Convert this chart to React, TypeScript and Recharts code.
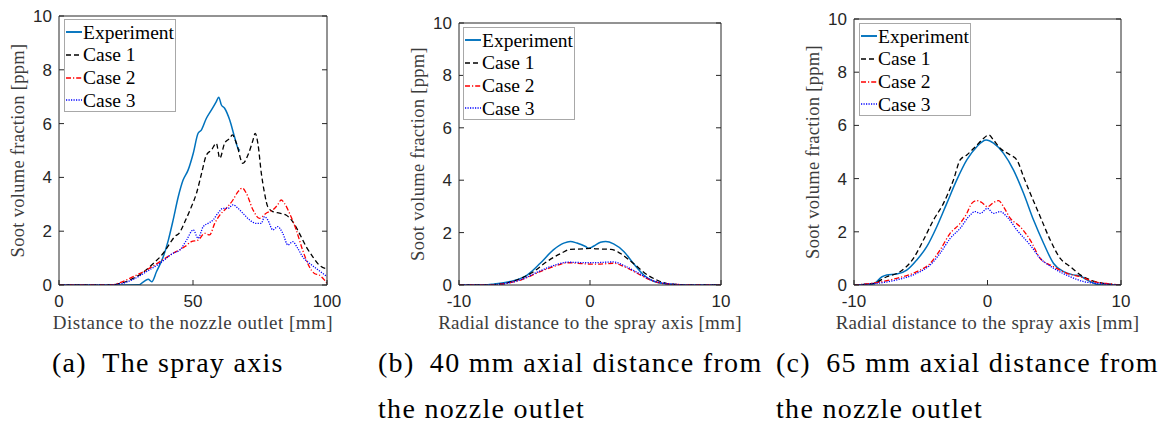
import React from 'react';
import { LineChart, Line, XAxis, YAxis, Legend } from 'recharts';

// ---------- shared labels ----------
const seriesNames = ['Experiment', 'Case 1', 'Case 2', 'Case 3'];
const yTicks = [0, 2, 4, 6, 8, 10];
const aXTicks = [0, 50, 100];
const rXTicks = [-10, 0, 10];
const aXLabel = 'Distance to the nozzle outlet [mm]';
const rXLabel = 'Radial distance to the spray axis [mm]';
const yLabel = 'Soot volume fraction [ppm]';
const captionA = ['(a)\u2002The spray axis'];
const captionB = ['(b)\u200240 mm axial distance from', 'the nozzle outlet'];
const captionC = ['(c)\u200265 mm axial distance from', 'the nozzle outlet'];

// ---------- (a) spray axis ----------
const aExpX = [0, 10, 20, 30, 31.5, 33.3, 34.6, 36.4, 38.9, 40.8, 42.6, 44.5, 46.3, 48.2, 50.1, 51.9, 53.1, 55, 56.9, 58.7, 59.6, 60.6, 61.8, 63.7, 65.5, 66.8, 67.5];
const aExpY = [0, 0, 0, 0.01, 0.12, 0.21, 0.12, 0.5, 1.05, 1.67, 2.42, 3.28, 3.9, 4.28, 4.9, 5.64, 5.76, 6.2, 6.51, 6.82, 6.98, 6.69, 6.57, 6.13, 5.5, 5.08, 5.0];
const aC1X = [0, 10, 20, 22.8, 26.5, 30.8, 35.2, 38.9, 41.4, 43.2, 44.8, 47, 49.4, 51.3, 53.2, 55, 56.9, 58.7, 60, 61.8, 63.7, 64.7, 66.2, 68.6, 70.5, 72.4, 73.2, 74.2, 75.5, 76.7, 77.9, 79.8, 82.3, 84.7, 87.2, 89.7, 92.2, 94.7, 97.1, 99.6, 100];
const aC1Y = [0, 0, 0.01, 0.06, 0.19, 0.43, 0.8, 1.18, 1.55, 1.8, 1.92, 2.36, 2.91, 3.41, 4.15, 4.83, 5.02, 5.27, 4.71, 5.27, 5.45, 5.58, 5.27, 4.52, 4.83, 5.39, 5.64, 5.27, 4.15, 3.41, 2.91, 2.73, 2.67, 2.6, 2.36, 1.92, 1.43, 1.05, 0.74, 0.62, 0.65];
const aC2X = [0, 10, 20, 22.8, 27.7, 32.7, 37.7, 42.6, 47, 49.4, 51.9, 54.4, 56.2, 58.1, 60, 62.4, 64.9, 66.8, 68.4, 69.9, 72.4, 74.8, 77.3, 79.8, 81.6, 82.9, 84.1, 86, 88.5, 90.9, 93.4, 95.3, 97.1, 99, 100];
const aC2Y = [0, 0, 0.01, 0.09, 0.31, 0.56, 0.87, 1.18, 1.43, 1.61, 1.67, 1.92, 1.86, 2.29, 2.6, 2.85, 3.16, 3.47, 3.6, 3.41, 2.79, 2.48, 2.67, 2.79, 2.98, 3.16, 3.04, 2.67, 2.05, 1.3, 0.68, 0.43, 0.37, 0.19, 0.06];
const aC3X = [0, 10, 20, 22.8, 27.7, 32.7, 37.7, 42.6, 45.1, 47.6, 50.1, 51.9, 53.8, 55.6, 57.5, 59.3, 61.2, 63.1, 64.9, 66.8, 68.6, 71.1, 73.6, 75.5, 76.7, 77.9, 79.8, 81.6, 83.5, 85.4, 87.2, 89.1, 90.9, 93.4, 95.9, 98.4, 100];
const aC3Y = [0, 0, 0.01, 0.04, 0.21, 0.5, 0.81, 1.18, 1.3, 1.67, 2.05, 1.74, 2.17, 2.29, 2.42, 2.67, 2.85, 2.85, 2.98, 2.85, 2.67, 2.42, 2.29, 2.29, 2.54, 2.42, 2.05, 2.17, 1.92, 1.49, 1.61, 1.36, 1.05, 0.81, 0.62, 0.43, 0.31];

// ---------- (b) 40 mm ----------
const bExpX = [-10, -8, -7.3, -6.1, -4.8, -3.8, -2.8, -2, -1.5, -1, -0.34, -0.1, 0.3, 0.8, 1.2, 1.8, 2.6, 3.3, 4.1, 4.9, 5.9, 7, 10];
const bExpY = [0, 0, 0.04, 0.13, 0.38, 0.83, 1.34, 1.6, 1.66, 1.6, 1.47, 1.4, 1.49, 1.63, 1.66, 1.57, 1.27, 0.83, 0.38, 0.13, 0.04, 0, 0];
const bC1X = [-10, -8, -6.8, -5.6, -4.3, -3.3, -2.2, -1.5, -0.5, 0, 0.5, 1.6, 2.3, 3.3, 4.4, 5.1, 6.1, 8, 10];
const bC1Y = [0, 0, 0.04, 0.19, 0.51, 0.89, 1.21, 1.36, 1.38, 1.4, 1.38, 1.36, 1.21, 0.83, 0.38, 0.19, 0.04, 0, 0];
const bC2X = [-10, -8, -6.8, -5.3, -3.8, -2.8, -1.7, -1, 0, 0.8, 1.8, 2.6, 3.6, 4.6, 5.9, 8, 10];
const bC2Y = [0, 0, 0.03, 0.19, 0.51, 0.7, 0.85, 0.83, 0.8, 0.8, 0.83, 0.7, 0.45, 0.19, 0.04, 0, 0];
const bC3X = [-10, -8, -6.8, -5.3, -3.8, -2.8, -1.7, -1, 0, 0.8, 1.8, 2.6, 3.6, 4.6, 5.9, 8, 10];
const bC3Y = [0, 0, 0.03, 0.2, 0.54, 0.74, 0.87, 0.86, 0.85, 0.86, 0.88, 0.74, 0.48, 0.21, 0.05, 0, 0];

// ---------- (c) 65 mm ----------
const cExpX = [-10, -8.55, -7.9, -7.55, -6.8, -6.05, -5.3, -4.55, -3.8, -3.05, -2.3, -1.55, -0.8, -0.1, 0.45, 1.2, 1.95, 2.7, 3.45, 4.2, 4.95, 5.7, 6.45, 6.95, 7.45, 8.1, 8.7, 10];
const cExpY = [0, 0.04, 0.31, 0.38, 0.41, 0.56, 0.94, 1.44, 2.19, 3.07, 3.95, 4.7, 5.2, 5.45, 5.33, 4.95, 4.32, 3.45, 2.44, 1.57, 0.81, 0.5, 0.38, 0.34, 0.19, 0.04, 0, 0];
const cC1X = [-10, -8.55, -7.55, -6.55, -5.55, -4.8, -4.05, -3.3, -2.55, -2.05, -1.55, -0.9, -0.3, 0.1, 0.45, 0.95, 1.7, 2.2, 2.7, 3.2, 3.95, 4.7, 5.45, 6.2, 6.95, 7.7, 8.7, 10];
const cC1Y = [0, 0.06, 0.31, 0.5, 1.0, 1.69, 2.44, 3.07, 3.95, 4.7, 4.89, 5.2, 5.51, 5.64, 5.45, 5.14, 4.89, 4.7, 4.07, 3.45, 2.57, 1.69, 1.0, 0.69, 0.38, 0.19, 0.06, 0];
const cC2X = [-10, -8.3, -6.8, -5.3, -4.3, -3.55, -2.8, -2.05, -1.55, -1.18, -0.8, -0.43, 0, 0.45, 0.83, 1.2, 1.7, 2.45, 3.2, 3.95, 4.95, 5.95, 6.95, 7.95, 9.2, 10];
const cC2Y = [0, 0.09, 0.25, 0.5, 0.81, 1.32, 1.94, 2.32, 2.69, 3.07, 3.17, 3.1, 2.94, 3.1, 3.17, 2.94, 2.51, 2.19, 1.69, 1.0, 0.69, 0.44, 0.31, 0.13, 0.04, 0];
const cC3X = [-10, -8.3, -6.8, -5.3, -4.3, -3.55, -2.8, -2.05, -1.3, -0.93, -0.55, 0, 0.45, 0.95, 1.45, 2.2, 3.2, 3.95, 4.95, 6.2, 7.2, 8.7, 10];
const cC3Y = [0, 0.06, 0.19, 0.44, 0.75, 1.19, 1.75, 2.13, 2.63, 2.76, 2.69, 2.88, 2.69, 2.76, 2.57, 2.07, 1.5, 1.0, 0.63, 0.31, 0.13, 0.04, 0];

const zip = (xs: number[], ys: number[]) => xs.map((x, i) => ({ x, y: ys[i] }));

const lineStyles = [
  { stroke: '#0072BD', width: 1.5, dash: undefined as string | undefined },
  { stroke: '#000000', width: 1.3, dash: '5 3' },
  { stroke: '#ff0000', width: 1.3, dash: '5 2 1.2 2' },
  { stroke: '#0000ff', width: 1.3, dash: '1.2 1.3' },
];

const AX = '#262626';
const tickFont = { fill: AX, fontSize: 17, fontFamily: 'Liberation Sans, Arial, sans-serif' };
const serif = 'Liberation Serif, Times New Roman, serif';

const LegendBox = () => (
  <div
    style={{
      border: '1px solid #a8a8a8',
      background: '#fff',
      width: 112,
      height: 93,
      boxSizing: 'border-box',
      paddingTop: 1,
      fontFamily: serif,
      fontSize: 19.5,
      color: '#000',
    }}
  >
    {lineStyles.map((s, i) => (
      <div key={i} style={{ display: 'flex', alignItems: 'center', height: 22.7 }}>
        <svg width={16} height={4} style={{ display: 'block', marginLeft: 1 }}>
          <line x1={0} y1={2} x2={16} y2={2} stroke={s.stroke} strokeWidth={s.width + 0.4} strokeDasharray={s.dash} />
        </svg>
        <span style={{ marginLeft: 1, lineHeight: 1, whiteSpace: 'nowrap' }}>{seriesNames[i]}</span>
      </div>
    ))}
  </div>
);

type PanelProps = {
  left: number;
  width: number;
  topH: number;
  rightW: number;
  xDomain: [number, number];
  xTicks: number[];
  xLabel: string;
  xLabelSpacing: number;
  yLabelOffset: number;
  series: { x: number; y: number }[][];
  legendLeft: number;
  legendTop: number;
};

const CH = 340;
const XH = 55;
const YW = 59;

const Panel = (p: PanelProps) => (
  <div style={{ position: 'absolute', left: p.left, top: 0 }}>
    <LineChart width={p.width} height={CH} margin={{ top: 0, right: 0, bottom: 0, left: 0 }}>
      <XAxis
        dataKey="x"
        type="number"
        domain={p.xDomain}
        ticks={p.xTicks}
        allowDataOverflow
        interval={0}
        height={XH}
        stroke={AX}
        tickSize={-5}
        tickMargin={15}
        tick={tickFont}
        label={{
          value: p.xLabel,
          position: 'insideBottom',
          offset: 11,
          style: { fill: '#3c3c3c', fontFamily: serif, fontSize: 19, letterSpacing: p.xLabelSpacing },
        }}
      />
      <XAxis
        xAxisId="top"
        orientation="top"
        type="number"
        domain={p.xDomain}
        ticks={p.xTicks}
        allowDataOverflow
        interval={0}
        height={p.topH}
        stroke={AX}
        tickSize={-5}
        tickFormatter={() => ''}
      />
      <YAxis
        type="number"
        domain={[0, 10]}
        ticks={yTicks}
        allowDataOverflow
        interval={0}
        width={YW}
        stroke={AX}
        tickSize={-5}
        tickMargin={12}
        tick={tickFont}
        label={{
          value: yLabel,
          angle: -90,
          position: 'insideLeft',
          offset: p.yLabelOffset,
          style: { fill: '#3c3c3c', fontFamily: serif, fontSize: 18.5, letterSpacing: 0.3, textAnchor: 'middle' },
        }}
      />
      <YAxis
        yAxisId="right"
        orientation="right"
        type="number"
        domain={[0, 10]}
        ticks={yTicks}
        allowDataOverflow
        interval={0}
        width={p.rightW}
        stroke={AX}
        tickSize={-5}
        tickFormatter={() => ''}
      />
      {p.series.map((d, i) => (
        <Line
          key={seriesNames[i]}
          name={seriesNames[i]}
          data={d}
          dataKey="y"
          type="monotone"
          stroke={lineStyles[i].stroke}
          strokeWidth={lineStyles[i].width}
          strokeDasharray={lineStyles[i].dash}
          dot={false}
          activeDot={false}
          isAnimationActive={false}
        />
      ))}
      <Legend
        layout="vertical"
        align="center"
        verticalAlign="middle"
        content={() => <LegendBox />}
        wrapperStyle={{ left: p.legendLeft, top: p.legendTop, width: 112, height: 93 }}
      />
    </LineChart>
  </div>
);

const Caption = ({ left, lines }: { left: number; lines: string[] }) => (
  <div style={{ position: 'absolute', left, top: 347, fontFamily: serif, fontSize: 28, letterSpacing: 1.3, color: '#000', whiteSpace: 'nowrap' }}>
    {lines.map((l, i) => (
      <div key={i} style={{ height: i === 0 ? 46 : 31, lineHeight: '31px' }}>{l}</div>
    ))}
  </div>
);

export default function App() {
  return (
    <div style={{ position: 'absolute', left: 0, top: 0, width: 1161, height: 424, background: '#fff', overflow: 'hidden' }}>
      <Panel
        left={0}
        width={341}
        topH={16}
        rightW={14}
        xDomain={[0, 100]}
        xTicks={aXTicks}
        xLabel={aXLabel}
        xLabelSpacing={0.5}
        yLabelOffset={17}
        series={[zip(aExpX, aExpY), zip(aC1X, aC1Y), zip(aC2X, aC2Y), zip(aC3X, aC3Y)]}
        legendLeft={64}
        legendTop={19}
      />
      <Panel
        left={400}
        width={361}
        topH={23}
        rightW={40}
        xDomain={[-10, 10]}
        xTicks={rXTicks}
        xLabel={rXLabel}
        xLabelSpacing={0.3}
        yLabelOffset={17}
        series={[zip(bExpX, bExpY), zip(bC1X, bC1Y), zip(bC2X, bC2Y), zip(bC3X, bC3Y)]}
        legendLeft={63}
        legendTop={27}
      />
      <Panel
        left={795}
        width={366}
        topH={19}
        rightW={40}
        xDomain={[-10, 10]}
        xTicks={rXTicks}
        xLabel={rXLabel}
        xLabelSpacing={0.3}
        yLabelOffset={17}
        series={[zip(cExpX, cExpY), zip(cC1X, cC1Y), zip(cC2X, cC2Y), zip(cC3X, cC3Y)]}
        legendLeft={64}
        legendTop={23}
      />
      <Caption left={52} lines={captionA} />
      <Caption left={378} lines={captionB} />
      <Caption left={776} lines={captionC} />
    </div>
  );
}
